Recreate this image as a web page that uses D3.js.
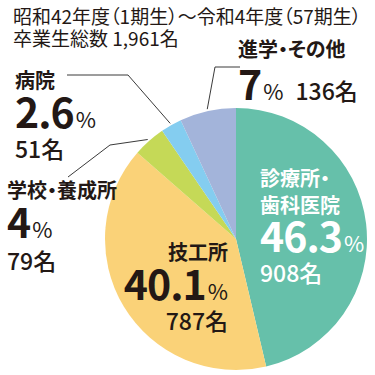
<!DOCTYPE html>
<html lang="ja">
  <head>
    <meta charset="utf-8"/>
    <script src="https://cdn.jsdelivr.net/npm/d3@7"></script>
    <style>
     body { margin: 0; background: #fff; }
     svg { display: block; font-family: "Noto Sans CJK JP", sans-serif; font-feature-settings: "palt"; }
    </style>
  </head>
  <body>
    <script>
     // data ---------------------------------------------------------------
     let categories = ["診療所・歯科医院", "技工所", "学校・養成所", "病院", "進学・その他"];
     let counts     = [908, 787, 79, 51, 136];
     let percents   = ["46.3", "40.1", "4", "2.6", "7"];
     let colors     = ["#66c0aa", "#fad278", "#c5d957", "#84cdf0", "#a3b4da"];

     let w = 375, h = 375;
     let cx = 236, cy = 239, r = 131;
     let ink = "#231815";

     let svg = d3.select("body").append("svg")
       .attr("width", w)
       .attr("height", h);

     // header
     svg.append("text")
       .attr("x", 13).attr("y", 24)
       .attr("font-size", 19).attr("fill", ink)
       .text("昭和42年度（1期生）～令和4年度（57期生）");
     svg.append("text")
       .attr("x", 13).attr("y", 46)
       .attr("font-size", 19).attr("fill", ink)
       .text("卒業生総数 1,961名");

     // pie ----------------------------------------------------------------
     let pie = d3.pie().sort(null).value(d => d);
     let arcs = pie(counts);
     let arc = d3.arc().innerRadius(0).outerRadius(r);

     let g = svg.append("g").attr("transform", "translate(" + cx + "," + cy + ")");
     g.selectAll("path")
       .data(arcs)
       .enter()
       .append("path")
       .attr("d", arc)
       .attr("fill", (d, i) => colors[i]);

     // label layout: name lines, anchor, x, baselines for name / pct / count
     let layout = [
       {lines: ["診療所・", "歯科医院"], x: 260, anchor: "start", yName: [186, 213], yPct: 252, yCnt: 282, fill: "#fff", inline: false},
       {lines: ["技工所"], x: 228, anchor: "end", yName: [260], yPct: 300, yCnt: 330, fill: ink, inline: false},
       {lines: ["学校・養成所"], x: 7, anchor: "start", yName: [198], yPct: 238, yCnt: 270, fill: ink, inline: false,
        leader: [[110, 145], [68, 177]]},
       {lines: ["病院"], x: 15, anchor: "start", yName: [88], yPct: 128, yCnt: 158, fill: ink, inline: false,
        leader: [[128, 75], [67, 75]]},
       {lines: ["進学・その他"], x: 238, anchor: "start", yName: [57], yPct: 100, yCnt: 100, fill: ink, inline: true,
        leader: [[215, 67], [240, 67]]}
     ];

     // leader lines start from the slice edge at its middle angle
     arcs.forEach((d, i) => {
       let L = layout[i];
       if (!L.leader) return;
       let a = (d.startAngle + d.endAngle) / 2;
       let rr = r + 2;
       let p0 = [cx + rr * Math.sin(a), cy - rr * Math.cos(a)];
       svg.append("path")
         .attr("d", d3.line()([p0].concat(L.leader)))
         .attr("fill", "none")
         .attr("stroke", "#3a3a3a")
         .attr("stroke-width", 1);
     });

     // labels
     layout.forEach((L, i) => {
       L.lines.forEach((s, j) => {
         svg.append("text")
           .attr("x", L.x).attr("y", L.yName[j])
           .attr("text-anchor", L.anchor)
           .attr("font-size", 20).attr("font-weight", "bold")
           .attr("fill", L.fill)
           .text(s);
       });
       let t = svg.append("text")
         .attr("x", L.x).attr("y", L.yPct)
         .attr("text-anchor", L.anchor)
         .attr("fill", L.fill);
       t.append("tspan")
         .attr("font-size", 41).attr("font-weight", "bold")
         .attr("letter-spacing", -1)
         .text(percents[i]);
       t.append("tspan")
         .attr("font-size", 22).attr("dx", 2)
         .text("%");
       if (L.inline) {
         t.append("tspan")
           .attr("font-size", 23).attr("font-weight", 500).attr("dx", 12)
           .text(counts[i] + "名");
       } else {
         svg.append("text")
           .attr("x", L.x).attr("y", L.yCnt)
           .attr("text-anchor", L.anchor)
           .attr("font-size", 23).attr("font-weight", 500)
           .attr("fill", L.fill)
           .text(counts[i] + "名");
       }
     });
    </script>
  </body>
</html>
